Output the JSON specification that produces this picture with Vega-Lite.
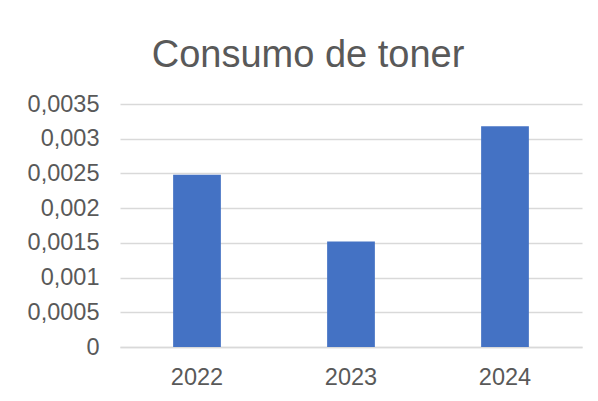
{
  "$schema": "https://vega.github.io/schema/vega-lite/v6.json",
  "autosize": "none",
  "width": 462,
  "height": 243,
  "padding": {"left": 120, "top": 104, "right": 16, "bottom": 54},
  "background": "white",
  "title": {
    "text": "Consumo de toner",
    "font": "Liberation Sans",
    "fontSize": 38,
    "fontWeight": "normal",
    "color": "#595959",
    "anchor": "middle",
    "baseline": "alphabetic",
    "offset": 40,
    "dx": -43,
    "dy": 53
  },
  "data": {
    "values": [
      {"year": "2022", "value": 0.00248},
      {"year": "2023", "value": 0.00152},
      {"year": "2024", "value": 0.00318}
    ]
  },
  "mark": {"type": "bar", "color": "#4472c4"},
  "encoding": {
    "x": {
      "field": "year",
      "type": "nominal",
      "scale": {"paddingInner": 0.69, "paddingOuter": 0.345},
      "axis": {
        "title": null,
        "labelAngle": 0,
        "ticks": false,
        "domain": true,
        "domainColor": "#d9d9d9",
        "domainWidth": 1.5,
        "labelPadding": 18,
        "labelFont": "Liberation Sans",
        "labelFontSize": 23.5,
        "labelColor": "#595959"
      }
    },
    "y": {
      "field": "value",
      "type": "quantitative",
      "scale": {"domain": [0, 0.0035], "nice": false},
      "axis": {
        "title": null,
        "values": [0, 0.0005, 0.001, 0.0015, 0.002, 0.0025, 0.003, 0.0035],
        "labelExpr": "replace(toString(datum.value), '.', ',')",
        "ticks": false,
        "domain": false,
        "grid": true,
        "gridColor": "#d9d9d9",
        "gridWidth": 1.5,
        "labelPadding": 21,
        "labelFont": "Liberation Sans",
        "labelFontSize": 23.5,
        "labelColor": "#595959"
      }
    }
  },
  "config": {"view": {"stroke": null}}
}
